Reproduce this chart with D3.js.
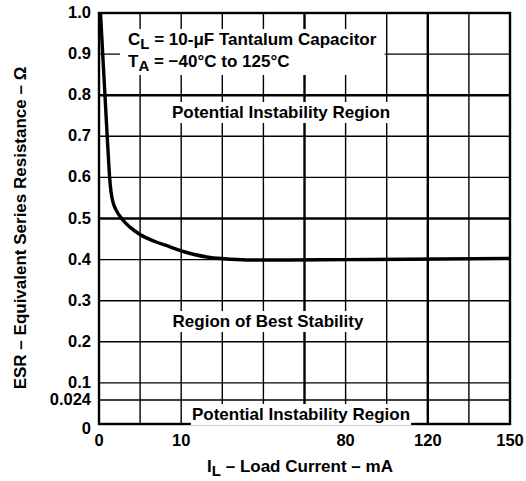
<!DOCTYPE html>
<html><head><meta charset="utf-8">
<script src="https://cdn.jsdelivr.net/npm/d3@7"></script>
<style>
html,body{margin:0;padding:0;background:#fff;}
svg{display:block;}
text{font-family:"Liberation Sans",Arial,Helvetica,sans-serif;font-weight:bold;fill:#000;}
</style></head>
<body>
<svg id="chart" width="526" height="481"></svg>
<script>
// ---- data ----
const xBreaks = [0, 10, 80, 120, 150];            // x tick labels (mA), non-linear axis
const xGrid = [5, 10, 27.5, 45, 62.5, 80, 100, 120, 135];
const xGridMajor = [62.5, 120];
const yBreaks = [0, 0.024, 0.1, 1.0];
const yTicks = [0, 0.024, 0.1, 0.2, 0.3, 0.4, 0.5, 0.6, 0.7, 0.8, 0.9, 1.0];
const yTickLabels = ["0", "0.024", "0.1", "0.2", "0.3", "0.4", "0.5", "0.6", "0.7", "0.8", "0.9", "1.0"];
const yGrid = [0.024, 0.1, 0.2, 0.3, 0.4, 0.5, 0.6, 0.7, 0.8, 0.9];
const yGridMajor = [0.5, 0.8];
const loadCurrent = [0.18, 0.49, 0.79, 1.09, 1.28, 1.46, 1.70, 2.07, 2.80, 3.77, 4.99, 6.81, 8.64, 10, 15.1, 22.3, 30.9, 39.4, 55, 80, 110, 150];
const esr =         [1.0, 0.886, 0.776, 0.667, 0.604, 0.565, 0.540, 0.521, 0.499, 0.479, 0.461, 0.444, 0.431, 0.421, 0.413, 0.405, 0.401, 0.399, 0.399, 0.400, 0.401, 0.403];

// ---- layout ----
const L = 99, R = 510, T = 13, B = 424;
const svg = d3.select("#chart");

// piecewise-linear x: breakpoints evenly spaced on equal grid divisions
const x = d3.scaleLinear().domain(xBreaks)
  .range([0, 2, 6, 8, 10].map(d => L + (R - L) * d / 10));
const y = d3.scaleLinear().domain(yBreaks)
  .range([B, 400, B - (B - T) / 10, T]);

const g = svg.append("g");

// grid
g.selectAll(".hg").data(yGrid).join("line")
  .attr("x1", L).attr("x2", R)
  .attr("y1", d => y(d)).attr("y2", d => y(d))
  .attr("stroke", "#000")
  .attr("stroke-width", d => yGridMajor.includes(d) ? 2.6 : 1.4);
g.selectAll(".vg").data(xGrid).join("line")
  .attr("y1", T).attr("y2", B)
  .attr("x1", d => x(d)).attr("x2", d => x(d))
  .attr("stroke", "#000")
  .attr("stroke-width", d => xGridMajor.includes(d) ? 2.4 : 1.4);

// frame
g.append("rect").attr("x", L).attr("y", T).attr("width", R - L).attr("height", B - T)
  .attr("fill", "none").attr("stroke", "#000").attr("stroke-width", 2.4);

// labels with white knock-out boxes
function boxedText(parent, build, padX, padY) {
  const grp = parent.append("g");
  const bg = grp.append("rect").attr("fill", "#fff");
  build(grp);
  const bb = grp.node().getBBox();
  bg.attr("x", bb.x - padX).attr("y", bb.y - padY)
    .attr("width", bb.width + 2 * padX).attr("height", bb.height + 2 * padY);
  return grp;
}

boxedText(g, p => {
  const t1 = p.append("text").attr("x", 128).attr("y", 45).style("font-size", "17px");
  t1.append("tspan").text("C");
  t1.append("tspan").attr("dy", 4).style("font-size", "15px").text("L");
  t1.append("tspan").attr("dy", -4).text(" = 10-μF Tantalum Capacitor");
  const t2 = p.append("text").attr("x", 128).attr("y", 67).style("font-size", "17px");
  t2.append("tspan").text("T");
  t2.append("tspan").attr("dy", 4).style("font-size", "15px").text("A");
  t2.append("tspan").attr("dy", -4).text(" = −40°C to 125°C");
}, 8, 1);

boxedText(g, p => p.append("text").attr("x", 281).attr("y", 118)
  .attr("text-anchor", "middle").style("font-size", "17px").text("Potential Instability Region"), 1, 1);
boxedText(g, p => p.append("text").attr("x", 268).attr("y", 327)
  .attr("text-anchor", "middle").style("font-size", "17px").text("Region of Best Stability"), 1, 1);
boxedText(g, p => p.append("text").attr("x", 301).attr("y", 420)
  .attr("text-anchor", "middle").style("font-size", "17px").text("Potential Instability Region"), 1, 1);

// curve
const pts = loadCurrent.map((d, i) => [d, esr[i]]);
g.append("path").datum(pts)
  .attr("d", d3.line().x(d => x(d[0])).y(d => y(d[1])).curve(d3.curveMonotoneX))
  .attr("fill", "none").attr("stroke", "#000").attr("stroke-width", 3.4);

// y tick labels
g.selectAll(".yt").data(yTicks).join("text")
  .attr("x", 91).attr("y", d => y(d) + (d === 0 ? 10 : 5))
  .attr("text-anchor", "end").style("font-size", "16.5px")
  .text((d, i) => yTickLabels[i]);

// x tick labels
g.selectAll(".xt").data(xBreaks).join("text")
  .attr("x", d => x(d)).attr("y", 446)
  .attr("text-anchor", "middle").style("font-size", "16.5px")
  .text(d => d);

// axis titles
const xt = g.append("text").attr("x", 300).attr("y", 472).attr("text-anchor", "middle").style("font-size", "17px");
xt.append("tspan").text("I");
xt.append("tspan").attr("dy", 4).style("font-size", "15px").text("L");
xt.append("tspan").attr("dy", -4).text(" – Load Current – mA");

g.append("text").attr("transform", "translate(26,228) rotate(-90)")
  .attr("text-anchor", "middle").style("font-size", "17px")
  .text("ESR – Equivalent Series Resistance – Ω");
</script>
</body></html>
